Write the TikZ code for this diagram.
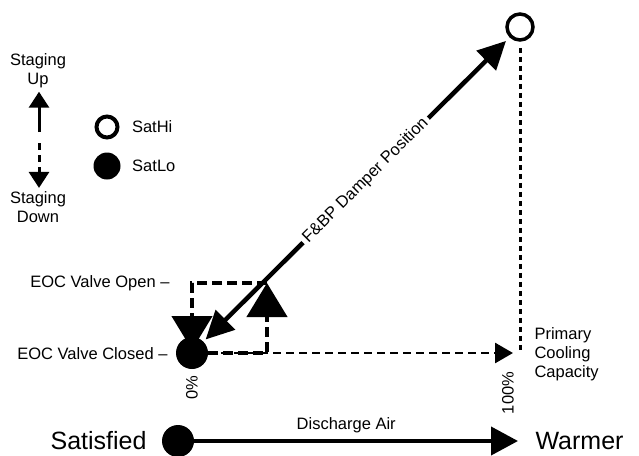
\documentclass[tikz,border=0pt]{standalone}
\usepackage{fontspec}
\setmainfont{Liberation Sans}
\usetikzlibrary{arrows.meta, positioning}

\begin{document}
\begin{tikzpicture}[
    x=1pt, y=-1pt,
    lbl/.style={font=\fontsize{16.5}{19}\selectfont, align=center},
    bigtxt/.style={font=\fontsize{25}{30}\selectfont},
    openmark/.style={circle, draw, line width=3.5pt, fill=white, minimum size=#1, inner sep=0pt},
    fullmark/.style={circle, fill=black, minimum size=#1, inner sep=0pt},
    damper/.style={line width=4.5pt, {Triangle[length=28pt,width=27pt]}-{Triangle[length=28pt,width=27pt]}},
    valve/.style={line width=4.5pt, dash pattern=on 10pt off 5pt, -{Triangle[length=34pt,width=40pt]}},
    capline/.style={line width=2.8pt, dash pattern=on 8pt off 5pt, -{Triangle[length=18pt,width=20pt]}},
    dotline/.style={line width=3pt, dash pattern=on 5pt off 4pt},
    legarrow/.style={line width=3pt, -{Triangle[length=16pt,width=20pt]}},
    airarrow/.style={line width=4pt, -{Triangle[length=27pt,width=28pt]}}
]
\useasboundingbox (0,0) rectangle (639,455);

% Legend
\node[lbl] (stup) at (38,71) {Staging\\Up};
\node[lbl] (stdown) at (38,207) {Staging\\Down};
\coordinate (legtop) at (39,132);
\coordinate (legbot) at (39,143);
\draw[legarrow] (legtop) -- (legtop |- stup.south);
\draw[legarrow, dash pattern=on 7pt off 5pt] (legbot) -- (legbot |- stdown.north);

\node[openmark=21pt, line width=4pt] (hikey) at (107,127) {};
\node[lbl, right=9pt of hikey] (hitxt) {SatHi};
\node[fullmark=27pt] (lokey) at (107,166) {};
\node[lbl, right=8pt of lokey] (lotxt) {SatLo};

% Operating points
\node[openmark=26pt] (hi) at (520,27) {};
\node[fullmark=32pt] (lo) at (192,353) {};
\coordinate (full) at (520,353);
\coordinate (vopen) at (267,283);

% Valve labels
\node[lbl, anchor=east] (openlbl) at (173,283) {EOC Valve Open --};
\node[lbl, anchor=east] (closedlbl) at (171,354) {EOC Valve Closed --};
\node[lbl, rotate=90] (zero) at (192,388) {0\%};
\node[lbl, rotate=90] (hundred) at (508,393) {100\%};
\node[lbl, anchor=west, align=left] (primary) at (531,354) {Primary\\Cooling\\Capacity};

% Capacity lines
\draw[dotline, shorten <=6pt] (hi) -- (full);
\draw[capline, shorten >=7pt] (lo.east) -- (full);

% EOC valve staging
\draw[valve] (lo.east) -| (vopen);
\draw[valve, shorten >=3pt] (vopen) -| (lo.center);

% Damper
\draw[damper, shorten <=3pt, shorten >=5pt] (lo) -- (hi)
    node[lbl, pos=0.53, sloped, fill=white] {F\&BP Damper Position};

% Discharge air axis
\node[bigtxt, anchor=east] (sat) at (150,441) {Satisfied};
\node[fullmark=32pt] (start) at (178,441) {};
\node[bigtxt, anchor=west] (warm) at (532,441) {Warmer};
\draw[airarrow, shorten >=14pt] (start) -- (warm)
    node[lbl, pos=0.45, above=3pt] {Discharge Air};

\end{tikzpicture}
\end{document}
